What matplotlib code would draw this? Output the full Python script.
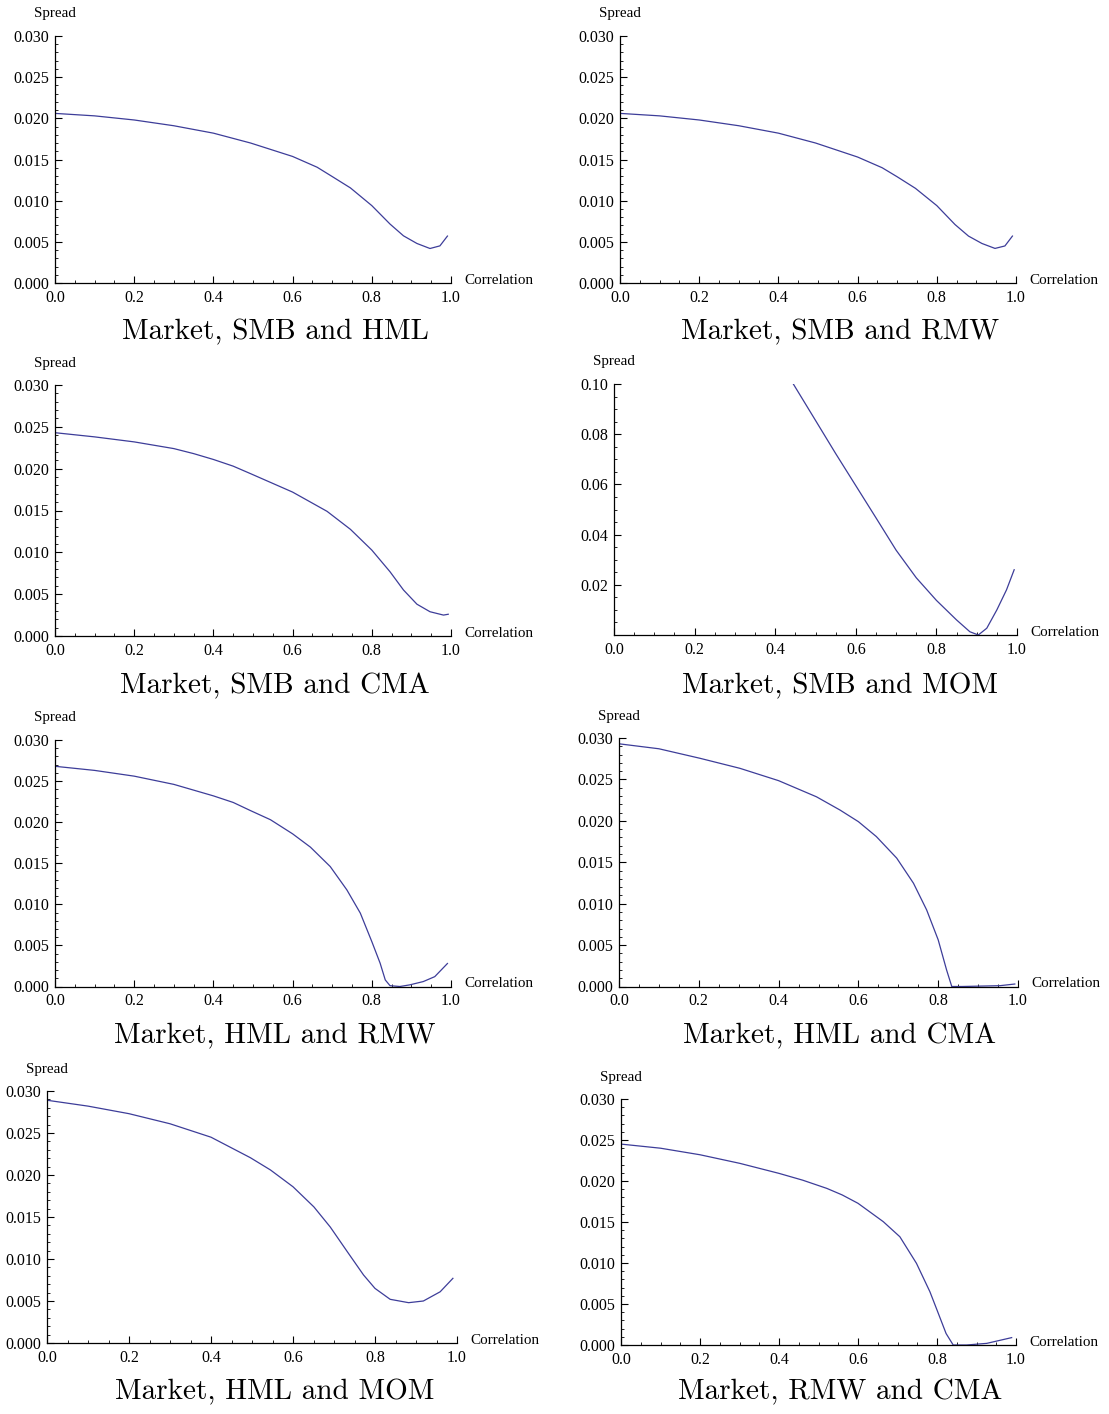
import matplotlib
matplotlib.use("Agg")
import matplotlib.pyplot as plt
from matplotlib.ticker import MultipleLocator, FormatStrFormatter

W, H = 1109, 1414

titles = ["Market, SMB and HML", "Market, SMB and RMW",
          "Market, SMB and CMA", "Market, SMB and MOM",
          "Market, HML and RMW", "Market, HML and CMA",
          "Market, HML and MOM", "Market, RMW and CMA"]

x_smb_hml = [0.0, 0.1, 0.2, 0.3, 0.4, 0.494, 0.6, 0.662, 0.70, 0.746, 0.8, 0.846, 0.88, 0.914, 0.947, 0.972, 0.991]
y_smb_hml = [0.0206, 0.0203, 0.0198, 0.0191, 0.0182, 0.0170, 0.01537, 0.01406, 0.01293, 0.01155, 0.0094, 0.00716, 0.00573, 0.0048, 0.00419, 0.00451, 0.0057]

x_smb_rmw = [0.0, 0.1, 0.2, 0.3, 0.4, 0.494, 0.6, 0.662, 0.70, 0.746, 0.8, 0.846, 0.88, 0.914, 0.947, 0.972, 0.991]
y_smb_rmw = [0.0206, 0.0203, 0.0198, 0.0191, 0.0182, 0.0170, 0.0153, 0.0140, 0.0129, 0.0115, 0.0094, 0.0071, 0.0057, 0.0048, 0.0042, 0.0045, 0.0057]

x_smb_cma = [0.0, 0.1, 0.2, 0.3, 0.35, 0.4, 0.45, 0.494, 0.6, 0.687, 0.746, 0.8, 0.846, 0.88, 0.914, 0.947, 0.981, 0.993]
y_smb_cma = [0.0243, 0.0238, 0.0232, 0.0224, 0.0218, 0.0211, 0.0203, 0.0194, 0.0172, 0.0149, 0.01275, 0.01027, 0.00768, 0.0055, 0.0038, 0.0029, 0.0025, 0.0026]

x_smb_mom = [0.445, 0.5, 0.55, 0.6, 0.65, 0.7, 0.75, 0.8, 0.85, 0.883, 0.904, 0.925, 0.95, 0.974, 0.993]
y_smb_mom = [0.100, 0.0855, 0.0723, 0.0595, 0.0467, 0.0338, 0.0228, 0.0138, 0.0060, 0.0013, 0.0, 0.0027, 0.0100, 0.0180, 0.0260]

x_hml_rmw = [0.0, 0.1, 0.2, 0.3, 0.4, 0.45, 0.494, 0.544, 0.6, 0.645, 0.695, 0.737, 0.771, 0.8, 0.821, 0.834, 0.846, 0.871, 0.896, 0.93, 0.959, 0.991]
y_hml_rmw = [0.0268, 0.0263, 0.0256, 0.0246, 0.0232, 0.0224, 0.0214, 0.0203, 0.01858, 0.01696, 0.0146, 0.01176, 0.00893, 0.00547, 0.00284, 0.0008, 0.0001, 0.0, 0.0002, 0.0006, 0.0012, 0.0028]

x_hml_cma = [0.0, 0.1, 0.203, 0.303, 0.4, 0.495, 0.554, 0.6, 0.645, 0.696, 0.738, 0.771, 0.8, 0.821, 0.834, 0.86, 0.955, 0.992]
y_hml_cma = [0.0293, 0.0287, 0.02755, 0.02634, 0.02485, 0.0229, 0.0213, 0.0199, 0.0181, 0.0155, 0.01247, 0.00925, 0.00563, 0.0020, 0.0, 0.0, 0.0001, 0.0003]

x_hml_mom = [0.0, 0.1, 0.2, 0.3, 0.4, 0.496, 0.545, 0.6, 0.651, 0.691, 0.732, 0.772, 0.8, 0.837, 0.882, 0.918, 0.959, 0.99]
y_hml_mom = [0.0289, 0.0282, 0.0273, 0.0261, 0.0245, 0.02206, 0.0206, 0.0186, 0.0162, 0.0138, 0.0109, 0.0081, 0.0065, 0.0052, 0.0048, 0.0050, 0.0061, 0.0077]

x_rmw_cma = [0.0, 0.1, 0.2, 0.301, 0.4, 0.46, 0.521, 0.56, 0.6, 0.664, 0.706, 0.748, 0.782, 0.8, 0.823, 0.841, 0.875, 0.926, 0.989]
y_rmw_cma = [0.0245, 0.0240, 0.0232, 0.02215, 0.02093, 0.0201, 0.0191, 0.0183, 0.01728, 0.01504, 0.0132, 0.00996, 0.0065, 0.00427, 0.0014, 0.0, 0.0, 0.0002, 0.0009]

series = [(x_smb_hml, y_smb_hml), (x_smb_rmw, y_smb_rmw), (x_smb_cma, y_smb_cma), (x_smb_mom, y_smb_mom),
          (x_hml_rmw, y_hml_rmw), (x_hml_cma, y_hml_cma), (x_hml_mom, y_hml_mom), (x_rmw_cma, y_rmw_cma)]

# pixel boxes: (x_left, x_right, y_bottom, y_top)
boxes = [(55, 451, 283, 36), (620, 1016, 283, 36),
         (55, 451, 636, 385), (614, 1017, 635, 384),
         (55, 451, 986.5, 740), (619, 1018, 986.5, 738),
         (47, 457, 1343, 1091), (621, 1016, 1345, 1099)]
title_y = [332, 332, 686, 686, 1036, 1036, 1392, 1392]
title_x = [275, 840]

serif = ["Liberation Serif", "DejaVu Serif"]
fig = plt.figure(figsize=(W / 100, H / 100), dpi=100)
color = "#3d3d99"

for i, ((xs, ys), (xl, xr, yb, yt)) in enumerate(zip(series, boxes)):
    ax = fig.add_axes([xl / W, 1 - yb / H, (xr - xl) / W, (yb - yt) / H])
    ax.plot(xs, ys, color=color, lw=0.9, solid_joinstyle="round")
    ax.set_xlim(0, 1.0)
    if i == 3:
        ax.set_ylim(0, 0.10)
        ax.yaxis.set_major_locator(MultipleLocator(0.02))
        ax.yaxis.set_minor_locator(MultipleLocator(0.005))
        ax.yaxis.set_major_formatter(FormatStrFormatter("%.2f"))
        ax.set_yticks([0.02, 0.04, 0.06, 0.08, 0.10])
    else:
        ax.set_ylim(0, 0.030)
        ax.yaxis.set_major_locator(MultipleLocator(0.005))
        ax.yaxis.set_minor_locator(MultipleLocator(0.001))
        ax.yaxis.set_major_formatter(FormatStrFormatter("%.3f"))
    ax.xaxis.set_major_locator(MultipleLocator(0.2))
    ax.xaxis.set_minor_locator(MultipleLocator(0.05))
    ax.xaxis.set_major_formatter(FormatStrFormatter("%.1f"))
    for s in ("top", "right"):
        ax.spines[s].set_visible(False)
    for s in ("left", "bottom"):
        ax.spines[s].set_linewidth(0.9)
    ax.tick_params(which="major", direction="in", length=5, width=0.8)
    ax.tick_params(which="minor", direction="in", length=2.5, width=0.6)
    ax.tick_params(axis="x", which="major", pad=5)
    ax.tick_params(axis="y", which="major", pad=4)
    for lab in ax.get_xticklabels() + ax.get_yticklabels():
        lab.set_family(serif)
        lab.set_fontsize(11.5)
    ax.patch.set_visible(False)
    fig.text(xl / W, 1 - (yt - 22) / H, "Spread", ha="center", va="center",
             family=serif, fontsize=10.8)
    fig.text((xr + 13) / W, 1 - (yb - 3) / H, "Correlation", ha="left", va="center",
             family=serif, fontsize=10.9)
    fig.text(title_x[i % 2] / W, 1 - title_y[i] / H, titles[i], ha="center", va="center",
             family=["cmr10", "DejaVu Serif"], fontsize=21)

fig.savefig("out.png", dpi=100)
